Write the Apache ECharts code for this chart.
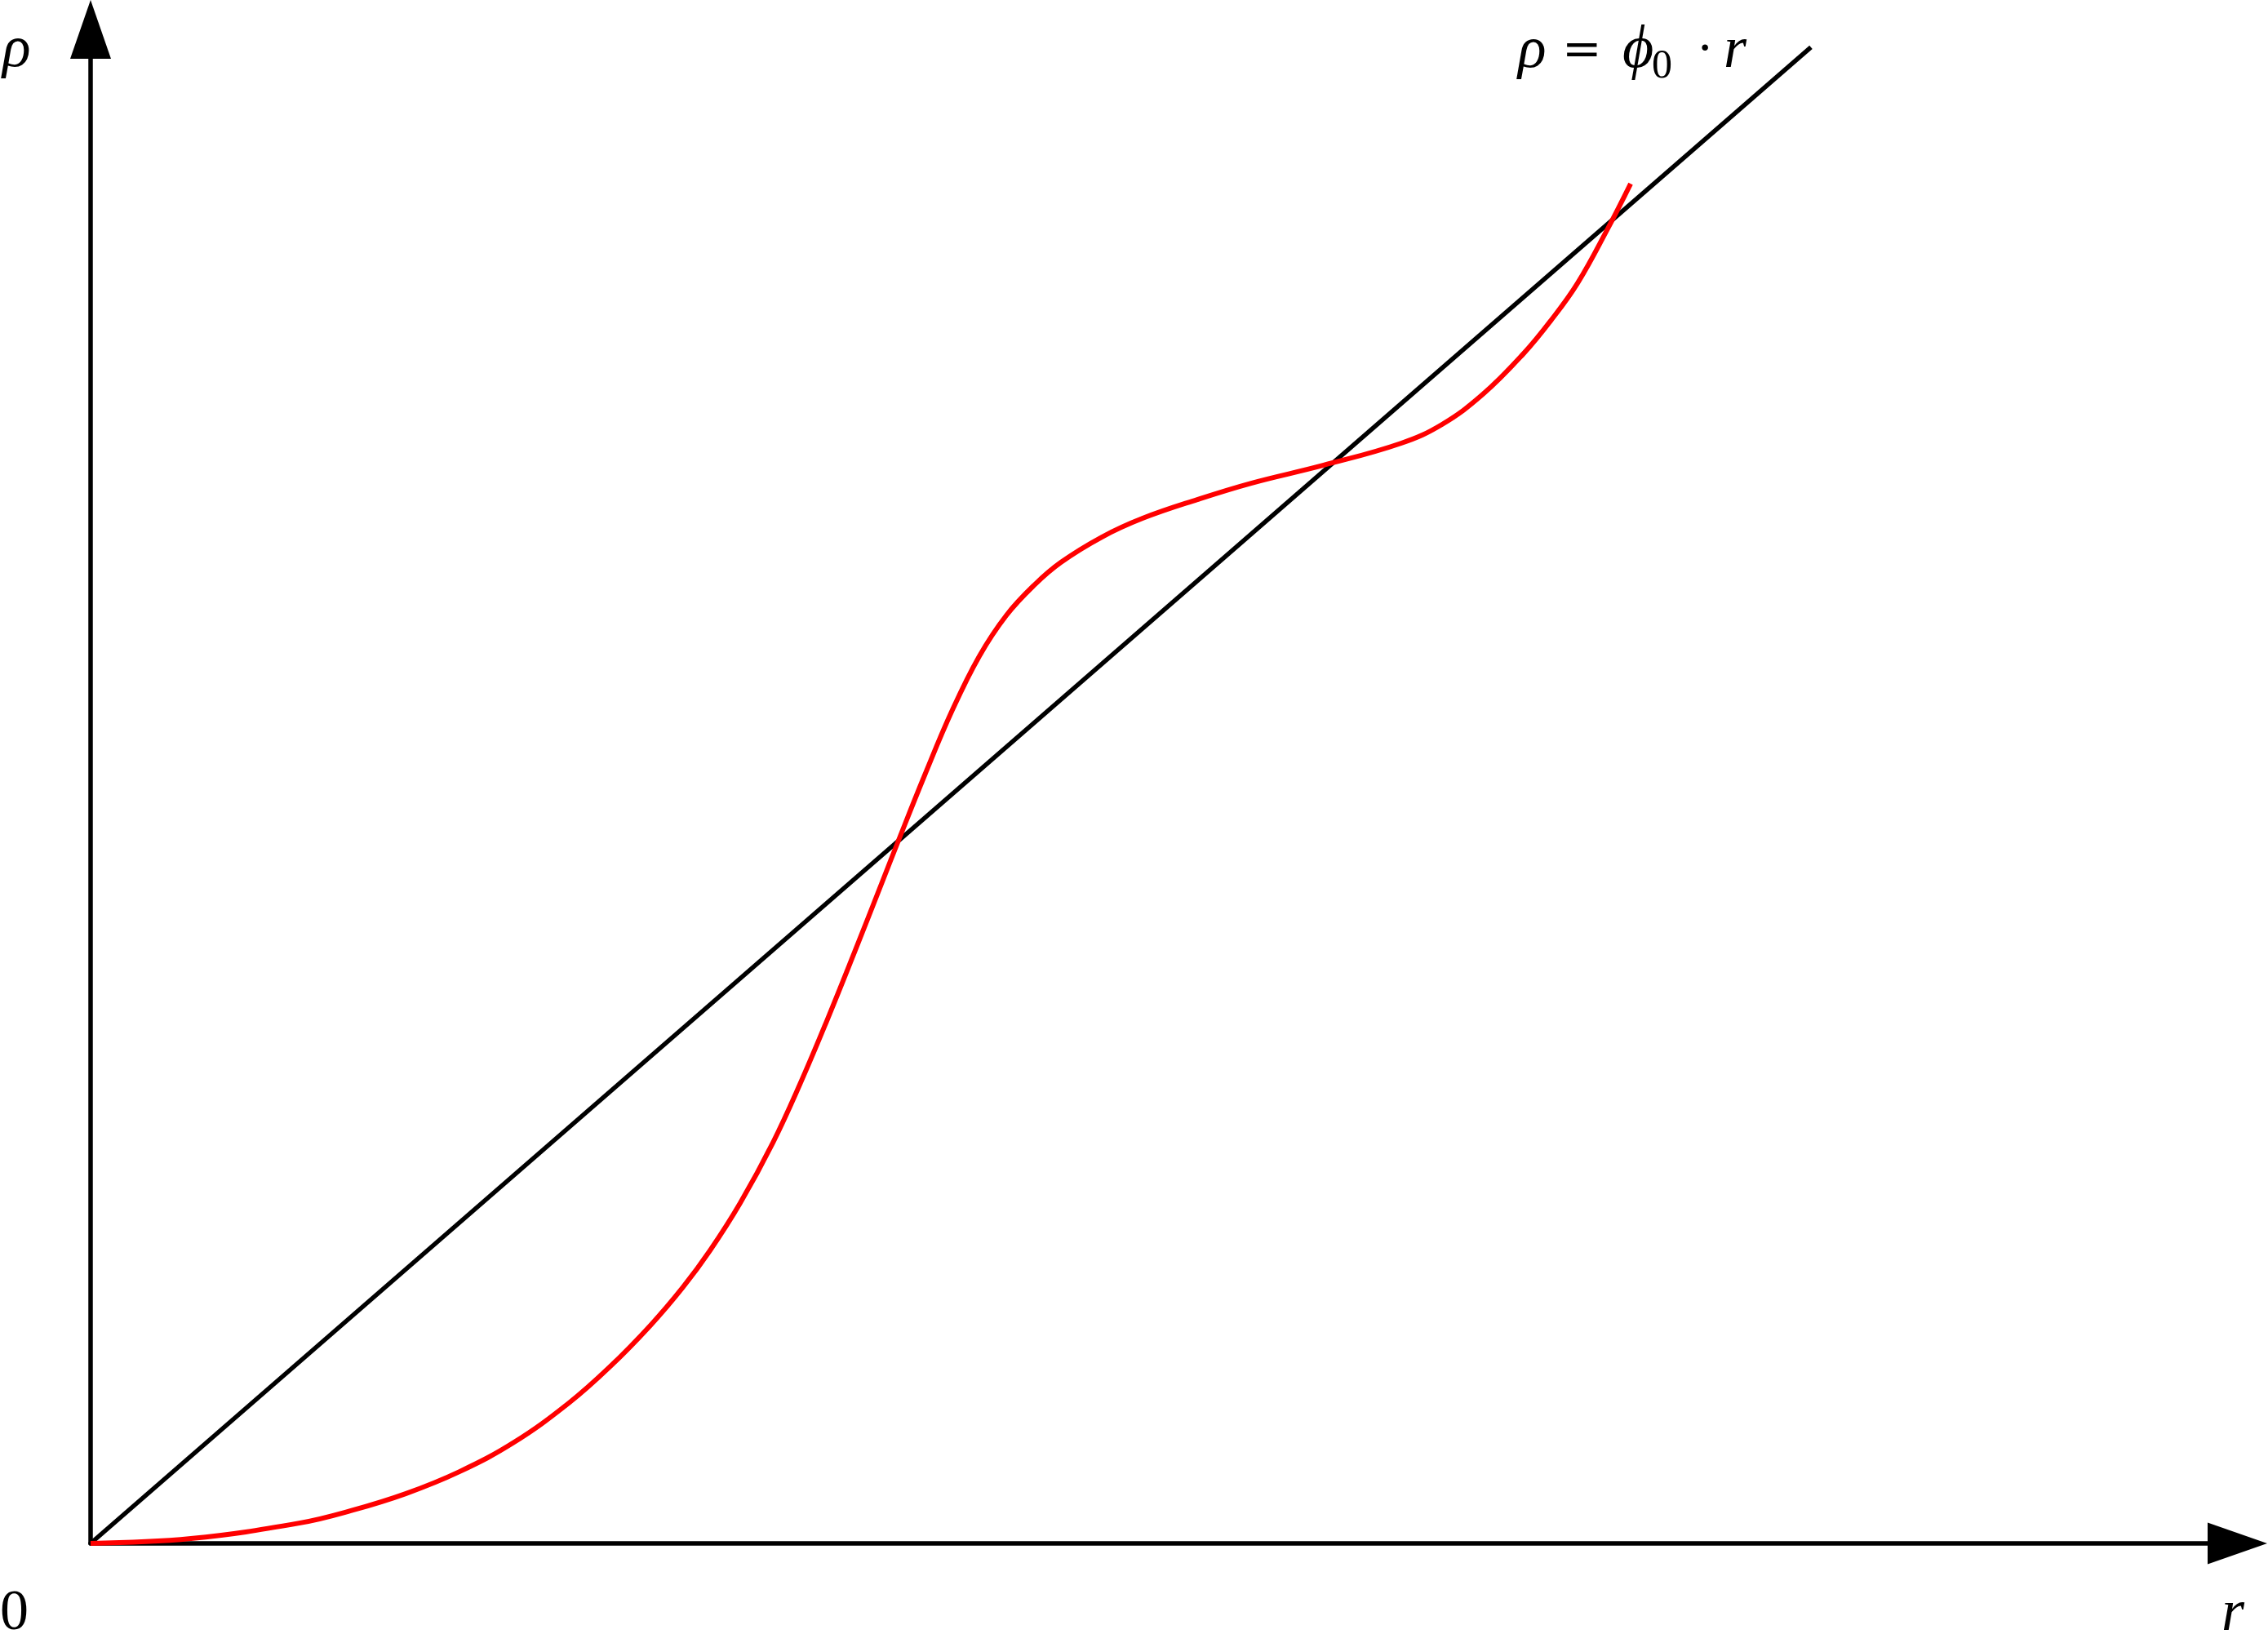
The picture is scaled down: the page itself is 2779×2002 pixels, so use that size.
<!DOCTYPE html>
<html>
<head>
<meta charset="utf-8">
<title>rho = phi0 r</title>
<script src="https://cdn.jsdelivr.net/npm/echarts@6/dist/echarts.min.js"></script>
<style>
  html, body { margin: 0; padding: 0; background: #fff; }
  #main { width: 2779px; height: 2002px; }
</style>
</head>
<body>
<div id="main"></div>
<script>
  // red curve (r, rho)
  var curveR = [0, 0.0583, 0.1219, 0.1513, 0.1831, 0.2144, 0.2462, 0.2780, 0.3017,
    0.3254, 0.3444, 0.3601, 0.3776, 0.3966, 0.4122, 0.4279, 0.4440, 0.4597, 0.4692,
    0.4848, 0.5009, 0.5166, 0.5323, 0.5484, 0.5640, 0.5878, 0.6115, 0.6433, 0.6746,
    0.7168, 0.7619, 0.7856, 0.8093, 0.8330, 0.8487, 0.8643, 0.8819, 0.8952];
  var curveRho = [0, 0.0028, 0.0119, 0.0190, 0.0289, 0.0417, 0.0588, 0.0816, 0.1025,
    0.1267, 0.1490, 0.1703, 0.1978, 0.2329, 0.2666, 0.3036, 0.3435, 0.3833, 0.4075,
    0.4464, 0.4843, 0.5157, 0.5394, 0.5569, 0.5702, 0.5849, 0.5958, 0.6067, 0.6162,
    0.6267, 0.6395, 0.6504, 0.6679, 0.6916, 0.7106, 0.7324, 0.7642, 0.7903];

  // straight line rho = phi0 * r
  var lineR = [0, 1];
  var lineRho = [0, 0.8696];

  var axisMaxR = 1.2479;
  var axisMaxRho = 0.88;

  var serif = '"Liberation Serif", "DejaVu Serif", serif';
  var wideSerif = '"DejaVu Serif", serif';

  function pairs(xs, ys) {
    return xs.map(function (x, i) { return [x, ys[i]]; });
  }

  function label(text, x, y, font) {
    return {
      type: 'text',
      x: x,
      y: y,
      style: {
        text: text,
        font: font,
        fill: '#000',
        textAlign: 'left',
        textVerticalAlign: 'middle'
      }
    };
  }

  var chart = echarts.init(document.getElementById('main'));

  var axisLine = {
    show: true,
    onZero: true,
    symbol: ['none', 'triangle'],
    lineStyle: { color: '#000', width: 5.5 }
  };

  var option = {
    backgroundColor: '#fff',
    animation: false,
    grid: { left: 111, right: 37.5, top: 36, bottom: 111 },
    xAxis: {
      type: 'value',
      min: 0,
      max: axisMaxR,
      axisLine: Object.assign({}, axisLine, { symbolSize: [51, 73] }),
      axisTick: { show: false },
      axisLabel: { show: false },
      splitLine: { show: false }
    },
    yAxis: {
      type: 'value',
      min: 0,
      max: axisMaxRho,
      axisLine: Object.assign({}, axisLine, { symbolSize: [50, 72] }),
      axisTick: { show: false },
      axisLabel: { show: false },
      splitLine: { show: false }
    },
    series: [{
      name: 'phi0 r',
      type: 'line',
      data: pairs(lineR, lineRho),
      showSymbol: false,
      lineStyle: { color: '#000', width: 5.5 }
    }, {
      name: 'rho(r)',
      type: 'line',
      data: pairs(curveR, curveRho),
      smooth: 0.4,
      showSymbol: false,
      lineStyle: { color: '#ff0000', width: 6 }
    }],
    graphic: [
      label('ρ', 3, 62, 'italic 72px ' + serif),
      label('0', 0, 1978, '70px ' + serif),
      label('r', 2722, 1978, 'italic 72px ' + serif),
      // formula near the end of the straight line
      label('ρ', 1860, 63, 'italic 72px ' + serif),
      label('=', 1914, 64, '58px ' + wideSerif),
      label('ϕ', 1988, 63, 'italic 74px ' + serif),
      label('0', 2024, 82, '50px ' + serif),
      label('·', 2080, 63, '58px ' + wideSerif),
      label('r', 2112, 63, 'italic 72px ' + serif)
    ]
  };

  chart.setOption(option);
</script>
</body>
</html>
